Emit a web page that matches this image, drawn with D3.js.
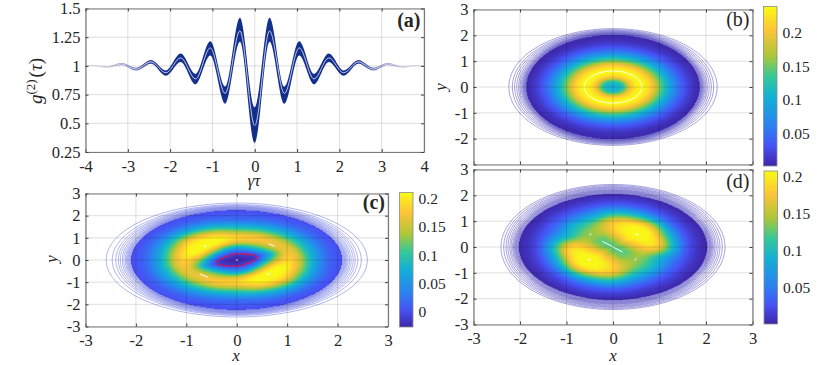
<!DOCTYPE html>
<html>
<head>
<meta charset="utf-8">
<script src="https://d3js.org/d3.v7.min.js"></script>
<style>
  body { margin: 0; background: #fff; }
  text { font-family: "Liberation Serif", serif; fill: #262626; }
</style>
</head>
<body>
<svg id="chart" width="830" height="365"></svg>
<script>
// panel (a): turning points of g2
const tauValues = [-4, -3.85, -3.5, -3.15, -2.8, -2.45, -2.1, -1.75, -1.4, -1.05, -0.7, -0.35, 0, 0.35, 0.7, 1.05, 1.4, 1.75, 2.1, 2.45, 2.8, 3.15, 3.5, 3.85, 4];
const g2Mean = [1, 1.003, 0.99, 1.017, 0.972, 1.035, 0.94, 1.07, 0.886, 1.157, 0.76, 1.305, 0.48, 1.305, 0.76, 1.157, 0.886, 1.07, 0.94, 1.035, 0.972, 1.017, 0.99, 1.003, 1];
const g2Upper = [1.001, 1.005, 0.994, 1.026, 0.984, 1.051, 0.96, 1.107, 0.93, 1.215, 0.82, 1.42, 0.64, 1.42, 0.82, 1.215, 0.93, 1.107, 0.96, 1.051, 0.984, 1.026, 0.994, 1.005, 1.001];
const g2Lower = [0.999, 1.001, 0.986, 1.008, 0.96, 1.019, 0.915, 1.035, 0.84, 1.09, 0.67, 1.21, 0.33, 1.21, 0.67, 1.09, 0.84, 1.035, 0.915, 1.019, 0.96, 1.008, 0.986, 1.001, 0.999];

// panels (b,c,d): z read along rays, one row per angle over half a turn
const radii = [0, 0.2, 0.4, 0.6, 0.8, 1, 1.2, 1.4, 1.6, 1.8, 2, 2.2];
const zTableB = [
  [0.105, 0.125, 0.21, 0.238, 0.215, 0.155, 0.1, 0.055, 0.025, 0.008, 0.003, 0.001],
  [0.105, 0.125, 0.21, 0.238, 0.215, 0.155, 0.1, 0.055, 0.026, 0.009, 0.004, 0.001],
  [0.105, 0.125, 0.21, 0.238, 0.215, 0.155, 0.1, 0.055, 0.027, 0.011, 0.005, 0.001],
  [0.105, 0.125, 0.21, 0.238, 0.215, 0.155, 0.1, 0.055, 0.026, 0.009, 0.004, 0.001]
];
const zTableC = [
  [-0.024, -0.018, 0.006, 0.085, 0.155, 0.19, 0.165, 0.105, 0.055, 0.02, 0.006, 0.002],
  [-0.024, -0.02, -0.008, 0.04, 0.11, 0.165, 0.16, 0.105, 0.06, 0.025, 0.007, 0.002],
  [-0.024, -0.019, 0.004, 0.065, 0.13, 0.17, 0.155, 0.11, 0.065, 0.03, 0.011, 0.003],
  [-0.024, -0.017, 0.016, 0.08, 0.145, 0.18, 0.16, 0.11, 0.065, 0.03, 0.011, 0.003],
  [-0.024, -0.015, 0.024, 0.085, 0.16, 0.19, 0.155, 0.105, 0.06, 0.025, 0.012, 0.0036],
  [-0.024, -0.014, 0.03, 0.11, 0.195, 0.21, 0.185, 0.13, 0.075, 0.035, 0.011, 0.003],
  [-0.024, -0.012, 0.035, 0.135, 0.208, 0.212, 0.195, 0.14, 0.08, 0.035, 0.01, 0.002],
  [-0.024, -0.015, 0.026, 0.125, 0.2, 0.21, 0.18, 0.12, 0.065, 0.028, 0.007, 0.002]
];
const zTableD = [
  [0.125, 0.135, 0.16, 0.18, 0.19, 0.17, 0.12, 0.07, 0.03, 0.012, 0.004, 0.001],
  [0.125, 0.14, 0.175, 0.2, 0.205, 0.185, 0.125, 0.07, 0.032, 0.013, 0.004, 0.001],
  [0.125, 0.15, 0.19, 0.207, 0.208, 0.2, 0.145, 0.08, 0.035, 0.015, 0.004, 0.001],
  [0.125, 0.14, 0.175, 0.2, 0.205, 0.19, 0.135, 0.08, 0.04, 0.018, 0.006, 0.001],
  [0.125, 0.135, 0.16, 0.18, 0.185, 0.17, 0.125, 0.08, 0.04, 0.018, 0.006, 0.001],
  [0.125, 0.128, 0.135, 0.15, 0.15, 0.13, 0.095, 0.06, 0.033, 0.015, 0.005, 0.001],
  [0.125, 0.125, 0.13, 0.14, 0.135, 0.115, 0.09, 0.055, 0.03, 0.014, 0.004, 0.001],
  [0.125, 0.128, 0.135, 0.15, 0.14, 0.11, 0.08, 0.05, 0.028, 0.012, 0.004, 0.001]
];

// faint outer contour rings: [rx, ry], from the outside in, ending under the fill
const ringsB = [[2.24, 2.26], [2.165, 2.22], [2.115, 2.19], [2.07, 2.165], [2.03, 2.145], [2, 2.125], [1.975, 2.11], [1.955, 2.095], [1.94, 2.08], [1.925, 2.07], [1.915, 2.06], [1.905, 2.05], [1.895, 2.04], [1.885, 2.03], [1.875, 2.02], [1.865, 2.01], [1.85, 2]];
const ringsC = [[2.59, 2.57], [2.47, 2.5], [2.4, 2.46], [2.35, 2.43], [2.31, 2.4], [2.27, 2.38], [2.24, 2.36], [2.21, 2.34], [2.19, 2.32], [2.17, 2.3], [2.155, 2.285], [2.14, 2.27], [2.125, 2.26], [2.11, 2.25], [2.1, 2.24], [2.09, 2.23], [2.08, 2.22], [2.07, 2.21]];
const ringsD = [[2.41, 2.42], [2.35, 2.38], [2.3, 2.34], [2.26, 2.31], [2.22, 2.28], [2.19, 2.25], [2.16, 2.22], [2.14, 2.2], [2.12, 2.18], [2.105, 2.16], [2.09, 2.14], [2.08, 2.12], [2.065, 2.1], [2.05, 2.08], [2.04, 2.06], [2.03, 2.05], [2.02, 2.04], [2, 2.02]];
const rimB = [1.87, 2.02];
const rimC = [2.09, 2.23];
const rimD = [2.03, 2.05];
const ringB = [[0.62, 0.62]];

// white specks left by the top contour: [x1, y1, x2, y2]
const specksC = [[-0.66, 0.63, -0.6, 0.63], [0.63, 0.74, 0.75, 0.62], [-0.73, -0.63, -0.57, -0.78], [0.6, -0.63, 0.66, -0.63], [-0.02, 0, 0.02, 0]];
const specksD = [[-0.23, 0.22, 0.21, -0.2], [-0.5, 0.45, -0.47, 0.53], [0.47, -0.53, 0.5, -0.45], [0.48, 0.5, 0.55, 0.48], [-0.55, -0.48, -0.48, -0.5]];

const parulaStops = [0, 0.125, 0.25, 0.43, 0.56, 0.69, 0.85, 1];
const parulaColors = ["#3e26a8", "#4752f4", "#2c80f0", "#12b1d6", "#37c897", "#abc739", "#fec338", "#f9fb15"];

const ticks6 = [-3, -2, -1, 0, 1, 2, 3];
const ticks5 = [-2, -1, 0, 1, 2, 3];
const barTicksBD = [0.05, 0.1, 0.15, 0.2];
const barTicksC = [0, 0.05, 0.1, 0.15, 0.2];

const svg = d3.select("#chart");
const parula = d3.scaleLinear().domain(parulaStops).range(parulaColors);

// draws grid, box and inward ticks; labels only for the lists given
const drawFrame = (g, xScale, yScale, xTicks, yTicks, xLabels, yLabels) => {
  const w = xScale.range()[1] - xScale.range()[0];
  const h = yScale.range()[0] - yScale.range()[1];

  const grid = g.append("g");
  grid.selectAll(".gx").data(xTicks).join("line")
    .attr("class", "gx")
    .attr("x1", d => xScale(d)).attr("x2", d => xScale(d)).attr("y1", 0).attr("y2", h);
  grid.selectAll(".gy").data(yTicks).join("line")
    .attr("class", "gy")
    .attr("y1", d => yScale(d)).attr("y2", d => yScale(d)).attr("x1", 0).attr("x2", w);
  grid.selectAll("line").attr("stroke", "#000").attr("stroke-opacity", 0.13);

  g.append("g").attr("transform", `translate(0,${h})`)
    .call(d3.axisBottom(xScale).tickValues(xTicks).tickSizeInner(-3).tickSizeOuter(0).tickPadding(8)
      .tickFormat(d => xLabels.includes(d) ? String(d) : ""));
  g.append("g")
    .call(d3.axisLeft(yScale).tickValues(yTicks).tickSizeInner(-3).tickSizeOuter(0).tickPadding(5)
      .tickFormat(d => yLabels.includes(d) ? String(d) : ""));
  g.append("g").call(d3.axisTop(xScale).tickValues(xTicks).tickSizeInner(-3).tickSizeOuter(0).tickFormat(""));
  g.append("g").attr("transform", `translate(${w},0)`)
    .call(d3.axisRight(yScale).tickValues(yTicks).tickSizeInner(-3).tickSizeOuter(0).tickFormat(""));

  g.selectAll(".domain").attr("stroke", "#7a7a7a").attr("stroke-width", 1.2);
  g.selectAll(".tick line").attr("stroke", "#404040");
  g.selectAll(".tick text").attr("font-size", 16.5);
};

const panelLabel = (g, xPos, yPos, label, weight) => {
  g.append("text").attr("x", xPos).attr("y", yPos).attr("text-anchor", "end")
    .attr("font-size", 20).attr("font-weight", weight).text(label);
};

const axisLabel = (x, y, label, rotate) => {
  svg.append("text").attr("transform", `translate(${x},${y})${rotate ? " rotate(-90)" : ""}`)
    .attr("text-anchor", "middle").attr("font-size", 17).attr("font-style", "italic").text(label);
};

// panel (a)
const drawLinePanel = () => {
  const xScale = d3.scaleLinear().domain([-4, 4]).range([0, 338.5]);
  const yScale = d3.scaleLinear().domain([0.25, 1.5]).range([143.5, 0]);
  const g = svg.append("g").attr("transform", "translate(85.5,8.5)");

  // band goes pale towards both ends
  const fade = svg.append("defs").append("linearGradient").attr("id", "fade");
  fade.selectAll("stop").data([[0, "#c4bfe4"], [0.12, "#7f80c4"], [0.22, "#14308f"], [0.78, "#14308f"], [0.88, "#7f80c4"], [1, "#c4bfe4"]]).join("stop")
    .attr("offset", d => d[0]).attr("stop-color", d => d[1]);

  const band = d3.area().x((d, i) => xScale(tauValues[i])).y0((d, i) => yScale(g2Lower[i])).y1((d, i) => yScale(g2Upper[i])).curve(d3.curveMonotoneX);
  const mean = d3.line().x((d, i) => xScale(tauValues[i])).y(d => yScale(d)).curve(d3.curveMonotoneX);
  g.append("path").datum(tauValues).attr("d", band).attr("fill", "url(#fade)");
  g.append("path").datum(g2Mean).attr("d", mean).attr("fill", "none").attr("stroke", "#e8e6f4").attr("stroke-opacity", 0.8).attr("stroke-width", 1);
  const xt = d3.range(-4, 5);
  const yt = [0.25, 0.5, 0.75, 1, 1.25, 1.5];
  drawFrame(g, xScale, yScale, xt, yt, xt, yt);
  panelLabel(g, 335, 18, "(a)", "bold");
};

// z at (x,y) from the polar table, cubic through the read values
const catmull = (a, b, c, d, t) => 0.5 * (2 * b + (c - a) * t + (2 * a - 5 * b + 4 * c - d) * t * t + (3 * b - a - 3 * c + d) * t * t * t);
const sampleTable = (table, x, y) => {
  const r = Math.min(Math.hypot(x, y), 2.19);
  const step = radii[1] - radii[0];
  let theta = Math.atan2(y, x);
  if (theta < 0) theta += Math.PI;
  if (theta >= Math.PI) theta -= Math.PI;
  const n = table.length;
  const u = theta / (Math.PI / n);
  const iu = Math.floor(u);
  const v = r / step;
  const iv = Math.floor(v);
  const along = row => {
    const p = k => row[Math.max(0, Math.min(radii.length - 1, k))];
    return catmull(p(iv - 1), p(iv), p(iv + 1), p(iv + 2), v - iv);
  };
  const rowAt = k => table[((k % n) + n) % n];
  return catmull(along(rowAt(iu - 1)), along(rowAt(iu)), along(rowAt(iu + 1)), along(rowAt(iu + 2)), u - iu);
};

// panels (b,c,d)
const drawHeatPanel = (cfg) => {
  const xScale = d3.scaleLinear().domain([-3, 3]).range([0, cfg.w]);
  const yScale = d3.scaleLinear().domain([-3, 3]).range([cfg.h, 0]);
  const g = svg.append("g").attr("transform", `translate(${cfg.x},${cfg.y})`);

  const ringLine = d3.line().x(d => xScale(d[0])).y(d => yScale(d[1])).curve(d3.curveLinearClosed);
  const ringPath = d => ringLine(d3.range(0, 2 * Math.PI, Math.PI / 60).map(t => [d[0] * Math.cos(t), d[1] * Math.sin(t)]));
  g.selectAll(".ring").data(cfg.rings).join("path")
    .attr("class", "ring").attr("d", ringPath)
    .attr("fill", "none").attr("stroke", cfg.ringColor).attr("stroke-width", 0.55);

  // outside the rim drop below every level so the fill stops on a clean ellipse
  const size = 301;
  const gx = i => -3 + i * 6 / (size - 1);
  const values = new Float64Array(size * size);
  for (let j = 0; j < size; j++) {
    for (let i = 0; i < size; i++) {
      const inside = (gx(i) / cfg.rim[0]) ** 2 + (gx(j) / cfg.rim[1]) ** 2 <= 1;
      values[j * size + i] = inside ? Math.max(sampleTable(cfg.table, gx(i), gx(j)), cfg.zMin + 0.0001) : -1;
    }
  }
  const toPixels = d3.geoPath(d3.geoTransform({
    point: function (px, py) { this.stream.point(xScale(gx(px - 0.5)), yScale(gx(py - 0.5))); }
  }));
  const colorOf = z => parula((z - cfg.zMin) / (cfg.zMax - cfg.zMin));
  const levels = d3.range(0, 90).map(i => cfg.zMin + (cfg.zMax - cfg.zMin) * i / 90);
  const contours = d3.contours().size([size, size]).smooth(true).thresholds(levels)(values);
  g.selectAll(".band").data(contours).join("path")
    .attr("class", "band").attr("d", d => toPixels(d)).attr("fill", d => colorOf(d.value)).attr("stroke", "none");

  g.selectAll(".topline").data(cfg.whiteRings).join("path")
    .attr("class", "topline").attr("d", ringPath).attr("fill", "none").attr("stroke", "#fff").attr("stroke-width", 0.9);
  if (cfg.redLevel !== undefined) {
    const red = d3.contours().size([size, size]).smooth(true).thresholds([cfg.redLevel])(values);
    const holes = red[0].coordinates.flat().filter(ring => Math.abs(d3.polygonArea(ring)) < 2000);
    g.selectAll(".redline").data(holes).join("path")
      .attr("class", "redline").attr("d", d => toPixels({ type: "Polygon", coordinates: [d] }))
      .attr("fill", "none").attr("stroke", "#e8102c").attr("stroke-width", 1.4).attr("stroke-dasharray", "3.5,1.5");
  }
  g.selectAll(".speck").data(cfg.specks).join("line")
    .attr("class", "speck")
    .attr("x1", d => xScale(d[0])).attr("y1", d => yScale(d[1])).attr("x2", d => xScale(d[2])).attr("y2", d => yScale(d[3]))
    .attr("stroke", "#fff").attr("stroke-width", 1);

  drawFrame(g, xScale, yScale, ticks6, ticks6, cfg.xLabels, cfg.yLabels);
  panelLabel(g, cfg.w - 3, cfg.labelY, cfg.label, cfg.labelWeight);

  // colour bar
  const barScale = d3.scaleLinear().domain([cfg.zMin, cfg.zMax]).range([cfg.barBottom, cfg.barTop]);
  const gradId = `grad${cfg.label[1]}`;
  const grad = svg.append("defs").append("linearGradient").attr("id", gradId).attr("x1", 0).attr("x2", 0).attr("y1", 1).attr("y2", 0);
  grad.selectAll("stop").data(parulaStops).join("stop").attr("offset", d => d).attr("stop-color", (d, i) => parulaColors[i]);
  svg.append("rect").attr("x", cfg.barX).attr("y", cfg.barTop).attr("width", 13.5).attr("height", cfg.barBottom - cfg.barTop)
    .attr("fill", `url(#${gradId})`).attr("stroke", "#8a8a8a").attr("stroke-width", 0.8);
  svg.selectAll(`.bar${cfg.label[1]}`).data(cfg.barTicks).join("text")
    .attr("class", `bar${cfg.label[1]}`)
    .attr("x", cfg.barX + 19).attr("y", d => barScale(d) + 5).attr("font-size", 15.5).text(d => d);
};

drawLinePanel();
drawHeatPanel({ x: 473.5, y: 9.5, w: 279, h: 155, table: zTableB, rings: ringsB, rim: rimB, ringColor: "#5f58c4", whiteRings: ringB, specks: [], zMin: 0.002, zMax: 0.24, label: "(b)", labelY: 16, labelWeight: "normal", xLabels: [], yLabels: ticks5, barX: 763.5, barTop: 6.5, barBottom: 166, barTicks: barTicksBD });
drawHeatPanel({ x: 85.5, y: 193.5, w: 302.5, h: 133, table: zTableC, rings: ringsC, rim: rimC, ringColor: "#6f78e4", whiteRings: [], specks: specksC, zMin: -0.027, zMax: 0.212, redLevel: -0.004, label: "(c)", labelY: 15, labelWeight: "bold", xLabels: ticks6, yLabels: ticks6, barX: 399.5, barTop: 192.5, barBottom: 327, barTicks: barTicksC });
drawHeatPanel({ x: 473.5, y: 169.5, w: 279, h: 155, table: zTableD, rings: ringsD, rim: rimD, ringColor: "#5f58c4", whiteRings: [], specks: specksD, zMin: 0.001, zMax: 0.208, label: "(d)", labelY: 18.5, labelWeight: "normal", xLabels: ticks6, yLabels: ticks6, barX: 764, barTop: 171, barBottom: 324, barTicks: barTicksBD });

// axis titles
axisLabel(254, 186, "γτ", false);
axisLabel(236, 361, "x", false);
axisLabel(613, 361, "x", false);
axisLabel(446, 87, "y", true);
axisLabel(57, 259, "y", true);
const g2Label = svg.append("text").attr("transform", "translate(42,81) rotate(-90)").attr("text-anchor", "middle").attr("font-size", 19).attr("font-style", "italic");
g2Label.append("tspan").text("g");
g2Label.append("tspan").attr("dy", -7).attr("font-size", 13).attr("font-style", "normal").text("(2)");
g2Label.append("tspan").attr("dy", 7).attr("dx", 2).attr("font-style", "normal").text("(");
g2Label.append("tspan").text("τ");
g2Label.append("tspan").attr("font-style", "normal").text(")");
</script>
</body>
</html>
